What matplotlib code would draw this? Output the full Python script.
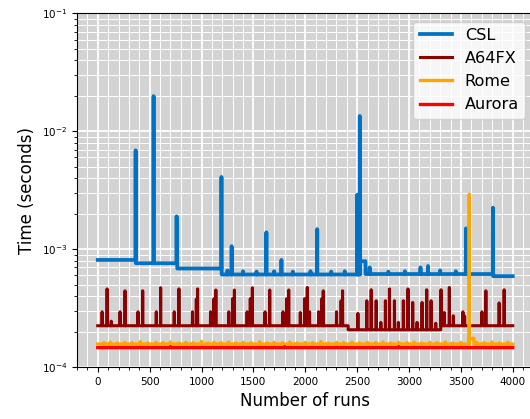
import matplotlib
matplotlib.use("Agg")
import matplotlib.pyplot as plt
from matplotlib.ticker import MultipleLocator

# CSL: plateau levels (start run, end run, seconds)
csl_seg_start = [0, 367, 766, 1194, 2527, 2580, 3811]
csl_seg_end = [367, 766, 1194, 2527, 2580, 3811, 3999]
csl_seg_level = [8.1e-4, 7.6e-4, 6.85e-4, 6.1e-4, 7.9e-4, 6.15e-4, 5.9e-4]
# CSL: spikes and bumps (run, peak seconds)
csl_spike_runs = [365, 538, 760, 764, 1192, 1250, 1290, 1400, 1530, 1625, 1700, 1770,
                  1880, 2050, 2115, 2250, 2380, 2500, 2510, 2525, 2620, 2800, 2960,
                  3110, 3183, 3300, 3450, 3548, 3808]
csl_spike_vals = [6.9e-3, 1.99e-2, 1.9e-3, 1.6e-3, 4.1e-3, 6.6e-4, 1.06e-3, 6.5e-4, 6.45e-4,
                  1.39e-3, 6.5e-4, 8.1e-4, 6.45e-4, 6.5e-4, 1.48e-3, 6.45e-4, 6.5e-4,
                  2.9e-3, 2.85e-3, 1.35e-2, 7.0e-4, 6.45e-4, 6.5e-4, 7.0e-4, 7.2e-4,
                  6.6e-4, 6.5e-4, 1.5e-3, 2.25e-3]

# A64FX: plateau levels and spikes
a64_seg_start = [0, 2413, 3305]
a64_seg_end = [2413, 3305, 3999]
a64_seg_level = [2.24e-4, 2.07e-4, 2.24e-4]
a64_spike_runs = [42, 90, 130, 215, 263, 388, 433, 564, 606, 737, 782, 913, 950, 962,
                  1087, 1120, 1138, 1263, 1300, 1317, 1439, 1470, 1490, 1612, 1657,
                  1785, 1820, 1840, 1952, 1993, 2019, 2041, 2128, 2160, 2173, 2301,
                  2345, 2359, 2507, 2593, 2635, 2683, 2728, 2772, 2811, 2859, 2897,
                  2945, 2990, 3035, 3077, 3125, 3170, 3212, 3257, 3308, 3340, 3388,
                  3426, 3519, 3535, 3702, 3740, 3868, 3916]
a64_spike_vals = [2.94e-4, 4.6e-4, 2.45e-4, 2.94e-4, 4.43e-4, 2.94e-4, 4.43e-4, 2.94e-4,
                  4.7e-4, 2.94e-4, 4.6e-4, 2.94e-4, 3.77e-4, 4.6e-4, 2.94e-4, 3.8e-4,
                  4.5e-4, 2.94e-4, 3.8e-4, 4.5e-4, 2.94e-4, 3.8e-4, 4.7e-4, 2.94e-4,
                  4.5e-4, 2.94e-4, 3.8e-4, 4.5e-4, 2.9e-4, 3.8e-4, 4.73e-4, 2.94e-4,
                  2.94e-4, 3.8e-4, 4.43e-4, 2.94e-4, 3.65e-4, 4.43e-4, 2.85e-4, 3.65e-4,
                  4.52e-4, 3.65e-4, 2.39e-4, 3.65e-4, 4.6e-4, 3.65e-4, 2.39e-4, 3.65e-4,
                  4.6e-4, 3.53e-4, 2.39e-4, 3.53e-4, 4.52e-4, 3.65e-4, 2.35e-4, 4.52e-4,
                  2.9e-4, 4.73e-4, 2.72e-4, 2.94e-4, 2.7e-4, 2.94e-4, 4.43e-4, 3.5e-4,
                  4.52e-4]

# Rome
rome_seg_start = [0, 3582, 3625]
rome_seg_end = [3582, 3625, 3999]
rome_seg_level = [1.565e-4, 1.75e-4, 1.565e-4]
rome_spike_runs = [60, 120, 190, 260, 330, 410, 480, 560, 630, 700, 780, 850, 920, 1000,
                   1060, 1120, 1190, 1260, 1330, 1400, 1480, 1560, 1630, 1700, 1780,
                   1850, 1920, 2000, 2070, 2150, 2220, 2300, 2370, 2450, 2520, 2600,
                   2680, 2750, 2820, 2900, 2980, 3050, 3120, 3200, 3270, 3350, 3420,
                   3500, 3580, 3650, 3720, 3800, 3870, 3950]
rome_spike_vals = [1.61e-4, 1.63e-4, 1.6e-4, 1.62e-4, 1.61e-4, 1.64e-4, 1.6e-4, 1.62e-4,
                   1.61e-4, 1.63e-4, 1.6e-4, 1.62e-4, 1.61e-4, 1.65e-4, 1.6e-4, 1.62e-4,
                   1.61e-4, 1.63e-4, 1.6e-4, 1.62e-4, 1.61e-4, 1.64e-4, 1.6e-4, 1.62e-4,
                   1.61e-4, 1.63e-4, 1.6e-4, 1.62e-4, 1.61e-4, 1.64e-4, 1.6e-4, 1.62e-4,
                   1.61e-4, 1.63e-4, 1.6e-4, 1.62e-4, 1.61e-4, 1.63e-4, 1.6e-4, 1.62e-4,
                   1.61e-4, 1.63e-4, 1.6e-4, 1.62e-4, 1.61e-4, 1.63e-4, 1.6e-4, 1.62e-4,
                   2.92e-3, 1.62e-4, 1.61e-4, 1.63e-4, 1.6e-4, 1.62e-4]

# Aurora
aurora_seg_start = [0]
aurora_seg_end = [3999]
aurora_seg_level = [1.46e-4]
aurora_spike_runs = [700, 1800, 2900]
aurora_spike_vals = [1.49e-4, 1.49e-4, 1.49e-4]


def build(seg_start, seg_end, seg_level, spike_runs, spike_vals):
    pts = []
    for s, e, v in zip(seg_start, seg_end, seg_level):
        pts.append((s, v))
        pts.append((e, v))
    for r, p in zip(spike_runs, spike_vals):
        base = seg_level[0]
        for s, e, v in zip(seg_start, seg_end, seg_level):
            if s <= r < e:
                base = v
        pts += [(r - 1.5, base), (r, p), (r + 1.5, base)]
    pts.sort(key=lambda q: q[0])
    return [q[0] for q in pts], [q[1] for q in pts]


fig = plt.figure(figsize=(5.3, 4.19), dpi=100)
ax = fig.add_axes([77 / 530, 52 / 419, 456.5 / 530, 353.5 / 419])
ax.set_facecolor("lightgray")

series = [
    ("CSL", "#0072c6", 2.7, (csl_seg_start, csl_seg_end, csl_seg_level, csl_spike_runs, csl_spike_vals)),
    ("A64FX", "darkred", 2.2, (a64_seg_start, a64_seg_end, a64_seg_level, a64_spike_runs, a64_spike_vals)),
    ("Rome", "orange", 2.4, (rome_seg_start, rome_seg_end, rome_seg_level, rome_spike_runs, rome_spike_vals)),
    ("Aurora", "red", 2.4, (aurora_seg_start, aurora_seg_end, aurora_seg_level, aurora_spike_runs, aurora_spike_vals)),
]
for name, col, lw, d in series:
    x, y = build(*d)
    ax.plot(x, y, color=col, lw=lw, label=name)

ax.set_yscale("log")
ax.set_ylim(1e-4, 1e-1)
ax.set_xlim(-200, 4199)
ax.xaxis.set_minor_locator(MultipleLocator(100))
ax.grid(which="major", color="white", lw=1.3)
ax.grid(which="minor", color="white", lw=0.7)
ax.set_axisbelow(True)
ax.tick_params(labelsize=7.5)
ax.set_xlabel("Number of runs", fontsize=12)
ax.set_ylabel("Time (seconds)", fontsize=12)
ax.legend(loc="upper right", fontsize=11.6)

fig.savefig("out.png", dpi=100)
